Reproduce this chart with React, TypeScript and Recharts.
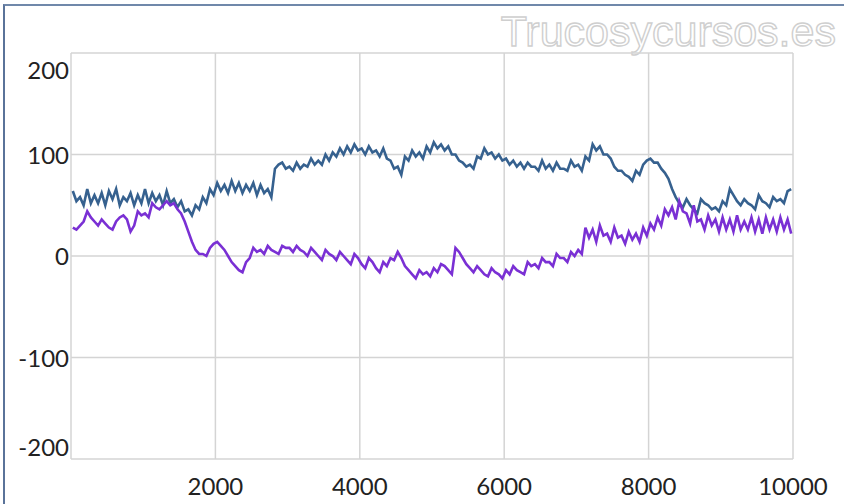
import { LineChart, Line, XAxis, YAxis, CartesianGrid } from 'recharts';

// sample positions (x axis)
const xs = [
  25, 75, 125, 175, 225, 275, 325, 375, 425, 475, 525, 575, 625, 675, 725, 775, 825, 875, 925, 975,
  1025, 1075, 1125, 1175, 1225, 1275, 1325, 1375, 1425, 1475, 1525, 1575, 1625, 1675, 1725, 1775, 1825, 1875, 1925, 1975,
  2025, 2075, 2125, 2175, 2225, 2275, 2325, 2375, 2425, 2475, 2525, 2575, 2625, 2675, 2725, 2775, 2825, 2875, 2925, 2975,
  3025, 3075, 3125, 3175, 3225, 3275, 3325, 3375, 3425, 3475, 3525, 3575, 3625, 3675, 3725, 3775, 3825, 3875, 3925, 3975,
  4025, 4075, 4125, 4175, 4225, 4275, 4325, 4375, 4425, 4475, 4525, 4575, 4625, 4675, 4725, 4775, 4825, 4875, 4925, 4975,
  5025, 5075, 5125, 5175, 5225, 5275, 5325, 5375, 5425, 5475, 5525, 5575, 5625, 5675, 5725, 5775, 5825, 5875, 5925, 5975,
  6025, 6075, 6125, 6175, 6225, 6275, 6325, 6375, 6425, 6475, 6525, 6575, 6625, 6675, 6725, 6775, 6825, 6875, 6925, 6975,
  7025, 7075, 7125, 7175, 7225, 7275, 7325, 7375, 7425, 7475, 7525, 7575, 7625, 7675, 7725, 7775, 7825, 7875, 7925, 7975,
  8025, 8075, 8125, 8175, 8225, 8275, 8325, 8375, 8425, 8475, 8525, 8575, 8625, 8675, 8725, 8775, 8825, 8875, 8925, 8975,
  9025, 9075, 9125, 9175, 9225, 9275, 9325, 9375, 9425, 9475, 9525, 9575, 9625, 9675, 9725, 9775, 9825, 9875, 9925, 9975,
];

const serie1 = [
  64, 54, 58, 50, 66, 52, 60, 52, 62, 50, 64, 56, 66, 50, 58, 54, 62, 50, 60, 52,
  66, 52, 62, 54, 60, 50, 64, 52, 56, 48, 54, 44, 46, 40, 50, 46, 58, 52, 66, 60,
  72, 64, 70, 62, 74, 64, 72, 62, 70, 64, 72, 60, 70, 62, 66, 58, 86, 90, 92, 86,
  88, 84, 92, 86, 90, 88, 96, 90, 94, 90, 100, 94, 102, 98, 106, 100, 108, 102, 110, 104,
  106, 100, 108, 102, 104, 98, 106, 96, 94, 86, 88, 80, 98, 94, 104, 98, 102, 96, 108, 102,
  112, 106, 110, 104, 108, 100, 100, 94, 92, 88, 90, 86, 98, 96, 106, 100, 102, 96, 100, 94,
  96, 90, 94, 88, 92, 86, 92, 88, 88, 84, 94, 86, 90, 84, 92, 86, 86, 84, 94, 88,
  90, 84, 98, 94, 110, 104, 108, 100, 100, 96, 88, 84, 84, 80, 78, 74, 84, 80, 90, 94,
  96, 92, 92, 86, 82, 76, 66, 58, 52, 48, 56, 50, 46, 42, 56, 52, 50, 46, 48, 44,
  54, 50, 66, 60, 54, 50, 56, 52, 50, 46, 60, 54, 52, 48, 58, 54, 56, 52, 64, 66,
];

const serie2 = [
  28, 26, 30, 34, 44, 38, 34, 30, 36, 32, 28, 26, 34, 38, 40, 36, 24, 30, 44, 40,
  42, 38, 52, 48, 46, 50, 54, 50, 52, 46, 42, 34, 24, 14, 6, 2, 2, 0, 8, 12,
  14, 10, 6, 0, -6, -10, -14, -16, -6, -2, 8, 4, 6, 2, 10, 6, 4, 2, 10, 8,
  8, 4, 10, 6, 4, 0, 8, 4, 0, -4, 6, 2, 0, -4, 4, 0, -4, -8, 2, -2,
  -8, -12, -2, -6, -12, -16, -6, -10, -2, -4, 4, -2, -10, -14, -18, -22, -14, -18, -16, -20,
  -12, -16, -8, -10, -14, -18, 8, 4, -2, -8, -12, -16, -10, -14, -18, -20, -12, -16, -18, -22,
  -14, -18, -10, -14, -16, -18, -6, -10, -8, -12, -2, -6, -6, -10, 2, -2, -2, -6, 4, 0,
  6, 2, 28, 18, 26, 14, 30, 20, 22, 14, 28, 18, 20, 12, 24, 16, 22, 14, 28, 20,
  32, 26, 38, 30, 46, 40, 48, 36, 54, 44, 42, 32, 50, 34, 36, 26, 40, 30, 36, 24,
  38, 26, 36, 24, 40, 26, 34, 26, 38, 24, 36, 22, 38, 26, 36, 24, 38, 26, 36, 22,
];

const xTicks = [0, 2000, 4000, 6000, 8000, 10000];
const yTicks = [-200, -100, 0, 100, 200];

const data = xs.map((x, i) => ({ x, a: serie1[i], b: serie2[i] }));

const FONT = 'Lato, "Open Sans", sans-serif';

const XTick = (props: any) => {
  const { x, y, payload } = props;
  if (payload.value === 0) return null;
  return (
    <text x={x} y={y + 28} textAnchor="middle" fontSize={24} fontFamily={FONT} fill="#222">
      {payload.value}
    </text>
  );
};

const YTick = (props: any) => {
  const { y, payload } = props;
  let yy = y;
  if (payload.value === 200) yy = 70;
  if (payload.value === -200) yy = 447;
  return (
    <text x={69} y={yy + 9} textAnchor="end" fontSize={24} fontFamily={FONT} fill="#222">
      {payload.value}
    </text>
  );
};

export default function App() {
  return (
    <div style={{ position: 'absolute', left: 0, top: 0, width: 844, height: 504, background: '#fff', overflow: 'hidden' }}>
      <div
        style={{
          position: 'absolute', left: 3, top: 4, width: 860, height: 520,
          borderLeft: '2px solid #5a7399', borderTop: '2px solid #7088aa',
        }}
      />
      <svg width={844} height={64} style={{ position: 'absolute', left: 0, top: 0 }}>
        <text
          x={836} y={46} fontSize={43} textAnchor="end"
          fontFamily='"Liberation Sans Narrow", sans-serif'
          fill="#fff" stroke="#cfcfcf" strokeWidth={1.4}
        >
          Trucosycursos.es
        </text>
      </svg>
      <div style={{ position: 'absolute', left: 0, top: 0 }}>
        <LineChart width={844} height={504} data={data} margin={{ top: 53, right: 51, bottom: 15, left: 8 }}>
          <CartesianGrid stroke="#d4d4d4" strokeWidth={1.5} />
          <XAxis
            dataKey="x" type="number" domain={[0, 10000]} ticks={xTicks}
            axisLine={false} tickLine={false} height={30} tick={<XTick />}
          />
          <YAxis
            type="number" domain={[-200, 200]} ticks={yTicks} width={63}
            axisLine={false} tickLine={false} tick={<YTick />}
          />
          <Line dataKey="a" stroke="#36618f" strokeWidth={2.6} dot={false} isAnimationActive={false} />
          <Line dataKey="b" stroke="#7a30d4" strokeWidth={2.6} dot={false} isAnimationActive={false} />
        </LineChart>
      </div>
    </div>
  );
}
